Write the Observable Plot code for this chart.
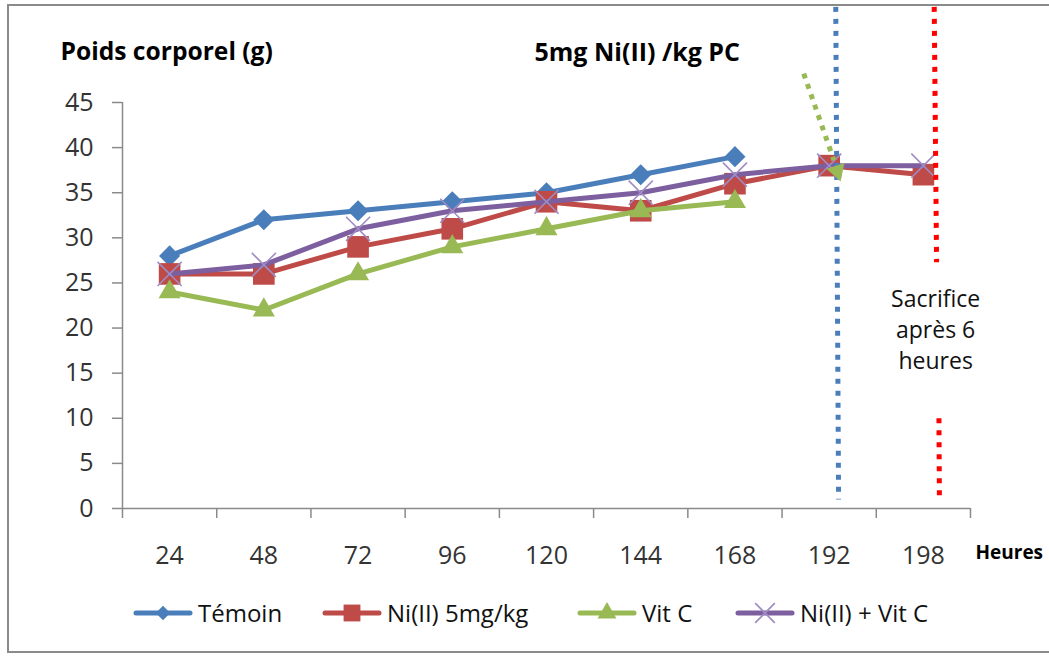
<!DOCTYPE html>
<html>
<head>
<meta charset="utf-8">
<script src="https://cdn.jsdelivr.net/npm/d3@7"></script>
<script src="https://cdn.jsdelivr.net/npm/@observablehq/plot@0.6"></script>
<style>
  html, body { margin: 0; padding: 0; background: #fff; }
  #wrap { position: relative; width: 1049px; height: 657px; overflow: hidden; background: #fff; }
  #frame { position: absolute; left: 7px; top: 4px; width: 1046px; height: 649px; border: 2px solid #8a8a8a; box-sizing: border-box; pointer-events: none; }
  #chart { position: absolute; left: 0; top: 0; }
  #legend { position: absolute; left: 0; top: 596px; width: 1049px; height: 34px;
            font-family: "Open Sans", sans-serif; font-size: 24px; color: #111; }
  .item { position: absolute; top: 0; display: flex; align-items: center; gap: 5px; white-space: nowrap; }
</style>
</head>
<body>
<div id="wrap">
  <div id="chart"></div>
  <div id="legend"></div>
  <div id="frame"></div>
</div>
<script>
// ---- data ----
const hours = ["24", "48", "72", "96", "120", "144", "168", "192", "198"];
const seriesNames = ["Témoin", "Ni(II) 5mg/kg", "Vit C", "Ni(II) + Vit C"];
const temoin = [28, 32, 33, 34, 35, 37, 39];
const niII = [26, 26, 29, 31, 34, 33, 36, 38, 37];
const vitC = [24, 22, 26, 29, 31, 33, 34];
const niVitC = [26, 27, 31, 33, 34, 35, 37, 38, 38];
const yTicks = [0, 5, 10, 15, 20, 25, 30, 35, 40, 45];

// ---- styles ----
const styles = [
  {values: temoin, color: "#4A7EBB", symbol: "diamond2", r: 9.5, lr: 6.5, fill: true, left: 133},
  {values: niII,   color: "#BE4B48", symbol: "square",   r: 12.2, lr: 9.5, fill: true, left: 322},
  {values: vitC,   color: "#98B954", symbol: "triangle", r: 8.2, lr: 7, fill: true, left: 577},
  {values: niVitC, color: "#7D5FA0", symbol: "times",    r: 11, lr: 9, fill: false, markColor: "#A08CC4", left: 735}
];

const rows = styles.map((s, k) => s.values.map((v, i) => ({series: seriesNames[k], i, v})));

const marks = [];
// axes
marks.push(Plot.ruleX([-0.5], {stroke: "#8a8a8a", strokeWidth: 1.5}));
marks.push(Plot.ruleY([0], {stroke: "#8a8a8a", strokeWidth: 1.5}));
marks.push(Plot.axisY(yTicks, {tickSize: 10, tickPadding: 19, stroke: "#8a8a8a", strokeWidth: 1.5,
  fill: "#333", fontSize: 25, fontFamily: "Open Sans", label: null}));
marks.push(Plot.axisX(d3.range(hours.length + 1).map(i => i - 0.5), {tickSize: 10, tickFormat: () => "",
  stroke: "#8a8a8a", strokeWidth: 1.5, label: null}));
marks.push(Plot.axisX(d3.range(hours.length), {tickSize: 0, tickPadding: 38, tickFormat: i => hours[i],
  fill: "#333", fontSize: 25, fontFamily: "Open Sans", label: null}));

// series
styles.forEach((s, k) => {
  marks.push(Plot.line(rows[k], {x: "i", y: "v", stroke: s.color, strokeWidth: 5, strokeLinejoin: "round", strokeLinecap: "round"}));
  if (s.fill) {
    marks.push(Plot.dot(rows[k], {x: "i", y: "v", symbol: s.symbol, r: s.r, fill: s.color, stroke: "none"}));
  } else {
    marks.push(Plot.dot(rows[k], {x: "i", y: "v", symbol: s.symbol, r: s.r, stroke: s.markColor, strokeWidth: 1.6, fill: "none"}));
  }
});

// annotations (data coordinates)
marks.push(Plot.link([{x1: 7.07, y1: 55.6, x2: 7.10, y2: 1.0}], {x1: "x1", y1: "y1", x2: "x2", y2: "y2",
  stroke: "#4A7EBB", strokeWidth: 5, strokeDasharray: "5,7"}));
marks.push(Plot.link([{x1: 8.115, y1: 55.6, x2: 8.14, y2: 27.3}, {x1: 8.165, y1: 10.0, x2: 8.17, y2: 1.0}],
  {x1: "x1", y1: "y1", x2: "x2", y2: "y2", stroke: "#FF0000", strokeWidth: 5, strokeDasharray: "5,7"}));
marks.push(Plot.link([{x1: 6.73, y1: 48.2, x2: 7.05, y2: 38.6}], {x1: "x1", y1: "y1", x2: "x2", y2: "y2",
  stroke: "#98B954", strokeWidth: 5, strokeDasharray: "5,6"}));
marks.push(Plot.dot([{x: 7.085, y: 37.4}], {x: "x", y: "y", symbol: "triangle", r: 7, rotate: 162, fill: "#98B954"}));

marks.push(Plot.text(["Sacrifice\naprès 6\nheures"], {x: () => 8.13, y: () => 19.95, text: d => d, lineAnchor: "middle",
  lineHeight: 1.35, fontSize: 23, fontFamily: "Open Sans", fill: "#111"}));

// titles
marks.push(Plot.text(["Poids corporel (g)"], {frameAnchor: "top-left", dx: -62, dy: -50, text: d => d, textAnchor: "start",
  lineAnchor: "middle", fontSize: 24.6, fontWeight: "bold", fontFamily: "Open Sans", fill: "#000"}));
marks.push(Plot.text(["5mg Ni(II) /kg PC"], {frameAnchor: "top-left", dx: 412, dy: -50, text: d => d, textAnchor: "start",
  lineAnchor: "middle", fontSize: 25, fontWeight: "bold", fontFamily: "Open Sans", fill: "#000"}));
marks.push(Plot.text(["Heures"], {frameAnchor: "bottom-right", dx: 5, dy: 44, text: d => d, textAnchor: "start",
  lineAnchor: "middle", fontSize: 19, fontWeight: "bold", fontFamily: "Open Sans", fill: "#000"}));

const chart = Plot.plot({
  width: 1049,
  height: 580,
  marginLeft: 122,
  marginRight: 79,
  marginTop: 102,
  marginBottom: 72,
  x: {type: "linear", domain: [-0.5, hours.length - 0.5]},
  y: {domain: [0, 45]},
  style: {background: "transparent", overflow: "visible"},
  marks
});
document.getElementById("chart").appendChild(chart);

// legend
const legend = d3.select("#legend");
const symMap = {diamond2: d3.symbolDiamond2, square: d3.symbolSquare, triangle: d3.symbolTriangle, times: d3.symbolTimes};
styles.forEach((s, k) => {
  const item = legend.append("div").attr("class", "item").style("left", s.left + "px");
  const svg = item.append("svg").attr("width", 60).attr("height", 26);
  svg.append("line").attr("x1", 3).attr("x2", 57).attr("y1", 13).attr("y2", 13)
    .attr("stroke", s.color).attr("stroke-width", 5).attr("stroke-linecap", "round");
  const size = s.lr * s.lr * Math.PI;
  svg.append("path").attr("transform", "translate(30,13)")
    .attr("d", d3.symbol(symMap[s.symbol], size)())
    .attr("fill", s.fill ? s.color : "none")
    .attr("stroke", s.fill ? "none" : s.markColor).attr("stroke-width", 1.6);
  item.append("span").text(seriesNames[k]);
});
</script>
</body>
</html>
